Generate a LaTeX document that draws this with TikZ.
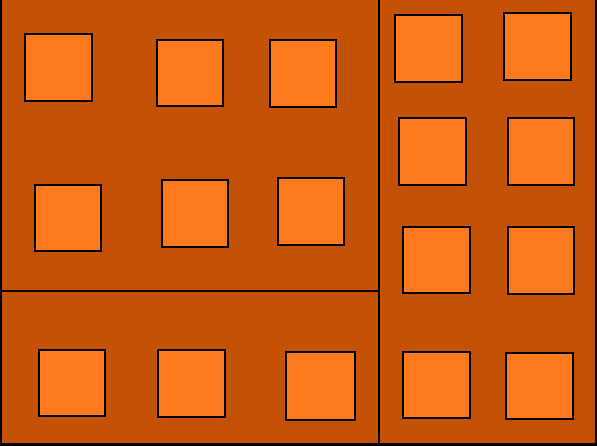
\documentclass[tikz,border=0pt]{standalone}
\definecolor{regionfill}{RGB}{197,82,4}
\definecolor{squarefill}{RGB}{255,122,28}
\tikzset{
  region/.style={fill=regionfill, draw=black, line width=2pt},
  sqbox/.style={fill=squarefill, draw=black, line width=2.2pt}
}
\begin{document}
\begin{tikzpicture}[x=1pt,y=-1pt]
\useasboundingbox (0,0) rectangle (597,446);
\fill[black] (0,0) rectangle (597,446);
% regions
\draw[region] (1,-2) rectangle (379,291);
\draw[region] (1,291) rectangle (379,444);
\draw[region] (379,-2) rectangle (596,444);
% top-left region squares
\draw[sqbox] (25,34) rectangle (92,101);
\draw[sqbox] (157,40) rectangle (223,106);
\draw[sqbox] (270,40) rectangle (336,107);
\draw[sqbox] (35,185) rectangle (101,251);
\draw[sqbox] (162,180) rectangle (228,247);
\draw[sqbox] (278,178) rectangle (344,245);
% bottom-left region squares
\draw[sqbox] (39,350) rectangle (105,416);
\draw[sqbox] (158,350) rectangle (225,417);
\draw[sqbox] (286,352) rectangle (355,420);
% right region squares
\draw[sqbox] (395,15) rectangle (462,82);
\draw[sqbox] (504,13) rectangle (571,80);
\draw[sqbox] (399,118) rectangle (466,185);
\draw[sqbox] (508,118) rectangle (574,185);
\draw[sqbox] (403,227) rectangle (470,293);
\draw[sqbox] (508,227) rectangle (574,294);
\draw[sqbox] (403,352) rectangle (470,418);
\draw[sqbox] (506,353) rectangle (573,419);
\end{tikzpicture}
\end{document}
